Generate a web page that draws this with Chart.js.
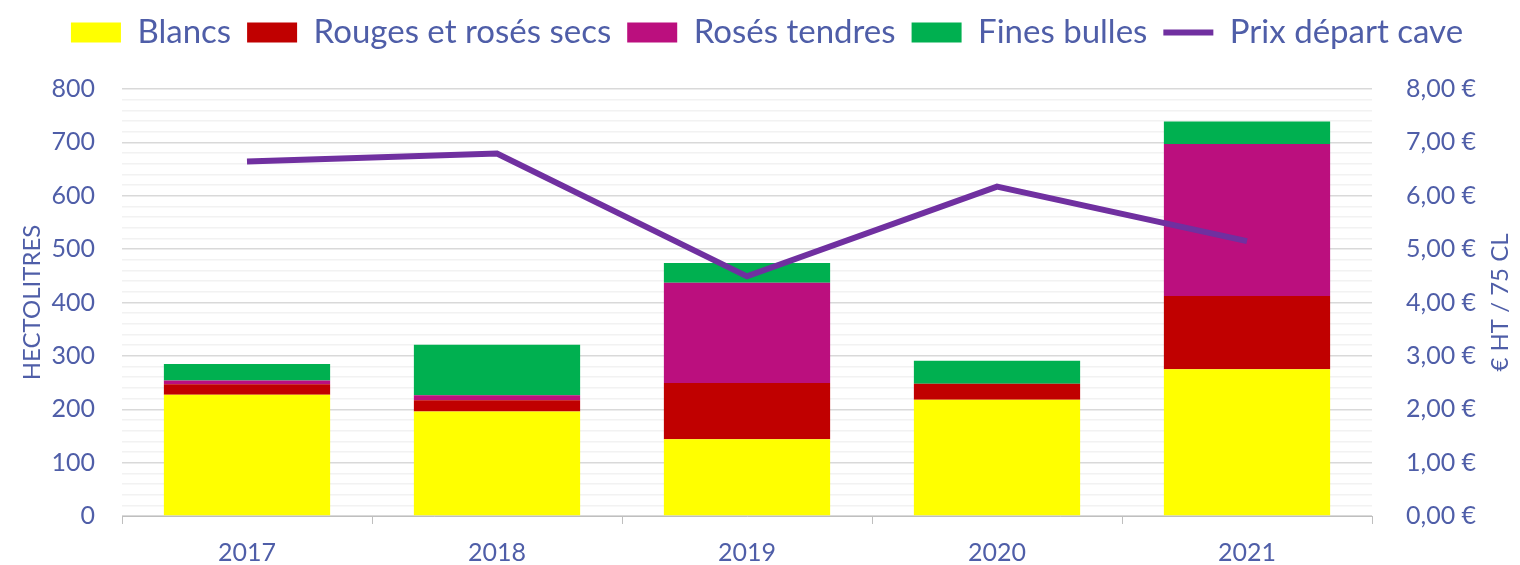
<!DOCTYPE html>
<html>
<head>
<meta charset="utf-8">
<script src="https://cdn.jsdelivr.net/npm/chart.js@4"></script>
<style>
  html, body { margin: 0; padding: 0; background: #fff; }
  #wrap { width: 1520px; height: 565px; }
</style>
</head>
<body>
<div id="wrap"><canvas id="chart"></canvas></div>
<script>
const years = ['2017', '2018', '2019', '2020', '2021'];
const blancs = [227, 196, 144, 218, 275];
const rougesSecs = [20, 21, 105, 30, 137];
const rosesTendres = [7, 9, 188, 0, 285];
const finesBulles = [31, 95, 37, 43, 42];
const prixCave = [6.64, 6.79, 4.49, 6.17, 5.15];

const textColor = '#4f5ea8';
const font = 'Lato, "Open Sans", sans-serif';
const rightTitle = '€ HT / 75 CL';

const barDataset = (label, data, color) => ({
    type: 'bar',
    label: label,
    data: data,
    backgroundColor: color,
    borderWidth: 0,
    pointStyle: 'rect',
    stack: 'vol',
    yAxisID: 'y',
    order: 1,
    categoryPercentage: 1,
    barPercentage: 0.665
});

// extra room under the legend
const legendGap = {
    id: 'legendGap',
    beforeInit(chart) {
        const fit = chart.legend.fit;
        chart.legend.fit = function () {
            fit.bind(chart.legend)();
            this.height += 30;
        };
    }
};

// right axis title, read bottom to top like the left one
const rightTitlePlugin = {
    id: 'rightTitle',
    afterDraw(chart) {
        const ctx = chart.ctx;
        const area = chart.chartArea;
        ctx.save();
        ctx.translate(1500, (area.top + area.bottom) / 2);
        ctx.rotate(-Math.PI / 2);
        ctx.font = '24px ' + font;
        ctx.fillStyle = textColor;
        ctx.textAlign = 'center';
        ctx.textBaseline = 'middle';
        ctx.fillText(rightTitle, 0, 0);
        ctx.restore();
    }
};

new Chart(document.getElementById('chart'), {
    data: {
        labels: years,
        datasets: [
            barDataset('Blancs', blancs, '#ffff00'),
            barDataset('Rouges et rosés secs', rougesSecs, '#c00000'),
            barDataset('Rosés tendres', rosesTendres, '#bb0f7e'),
            barDataset('Fines bulles', finesBulles, '#00b050'),
            {
                type: 'line',
                label: 'Prix départ cave',
                data: prixCave,
                borderColor: '#7030a0',
                backgroundColor: '#7030a0',
                borderWidth: 6,
                pointRadius: 0,
                pointStyle: 'line',
                yAxisID: 'y1',
                order: 0
            }
        ]
    },
    plugins: [legendGap, rightTitlePlugin],
    options: {
        responsive: true,
        maintainAspectRatio: false,
        animation: false,
        layout: { padding: { left: 14, right: 0, top: 0, bottom: 0 } },
        plugins: {
            tooltip: { enabled: false },
            legend: {
                position: 'top',
                labels: {
                    color: textColor,
                    font: { family: font, size: 33 },
                    usePointStyle: true,
                    pointStyleWidth: 50,
                    boxHeight: 20,
                    padding: 16,
                    sort: (a, b) => a.datasetIndex - b.datasetIndex
                }
            }
        },
        scales: {
            x: {
                stacked: true,
                afterFit: s => { s.height = 48; },
                grid: { display: true, drawOnChartArea: false, offset: true, tickLength: 8, color: '#bfbfbf' },
                border: { color: '#bfbfbf', width: 1 },
                ticks: { color: textColor, font: { family: font, size: 25 }, padding: 14 }
            },
            y: {
                stacked: true,
                position: 'left',
                min: 0,
                max: 800,
                afterFit: s => { s.width = 108; },
                border: { display: false },
                grid: {
                    drawTicks: false,
                    color: ctx => ctx.tick.value % 100 === 0 ? '#d9d9d9' : '#f2f2f2',
                    lineWidth: 1.5
                },
                ticks: {
                    stepSize: 20,
                    autoSkip: false,
                    padding: 27,
                    color: textColor,
                    font: { family: font, size: 25 },
                    callback: v => v % 100 === 0 ? v : ''
                },
                title: {
                    display: true,
                    text: 'HECTOLITRES',
                    color: textColor,
                    font: { family: font, size: 24 },
                    padding: { top: 4, bottom: 4 }
                }
            },
            y1: {
                position: 'right',
                min: 0,
                max: 8,
                afterFit: s => { s.width = 148; },
                border: { display: false },
                grid: { drawOnChartArea: false, drawTicks: false },
                ticks: {
                    stepSize: 1,
                    padding: 34,
                    color: textColor,
                    font: { family: font, size: 25 },
                    callback: v => v.toFixed(2).replace('.', ',') + ' €'
                }
            }
        }
    }
});
</script>
</body>
</html>
